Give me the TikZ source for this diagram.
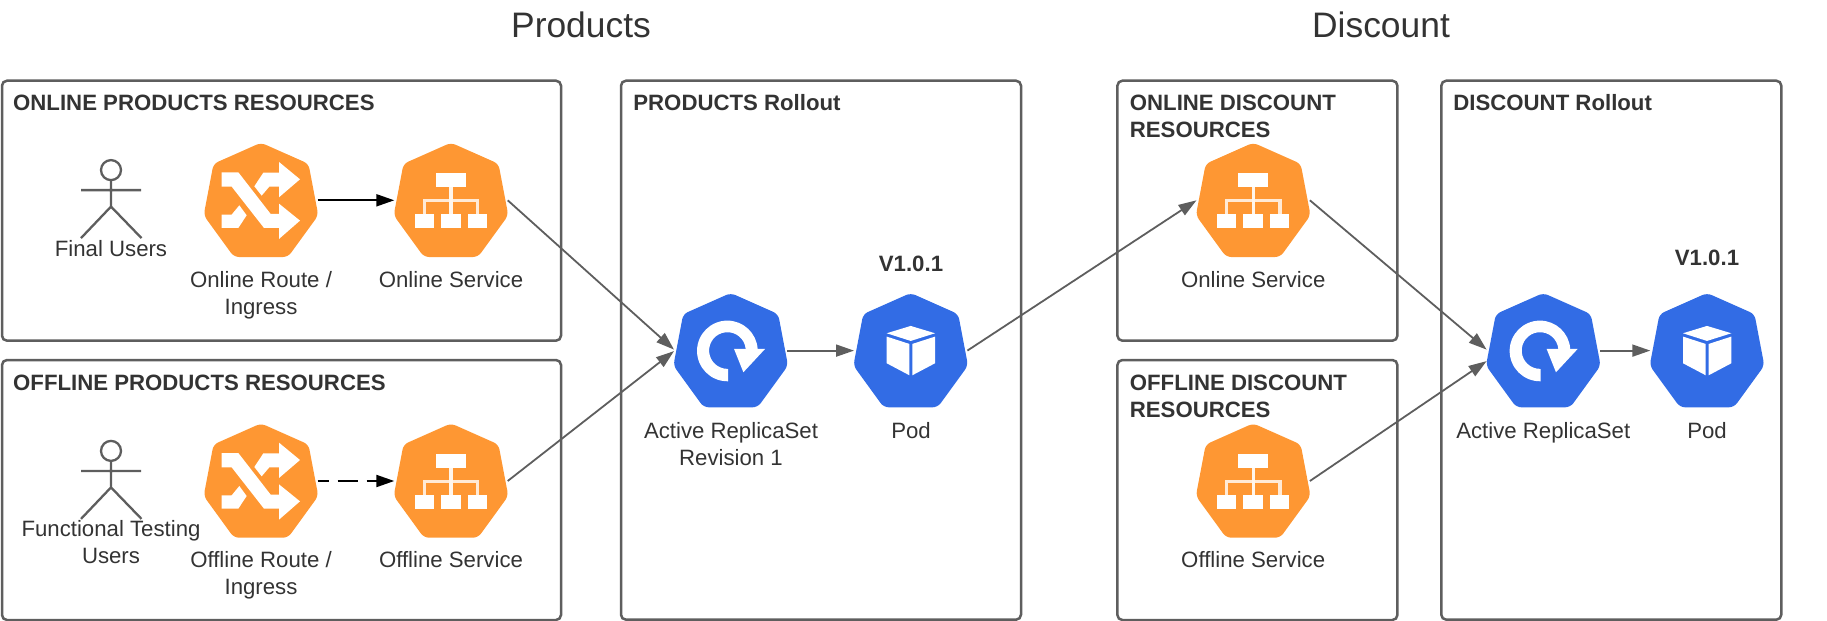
\documentclass[tikz,border=0pt]{standalone}
\usepackage{fontspec}
\setmainfont{Liberation Sans}
\usetikzlibrary{arrows.meta,calc}
\definecolor{korange}{HTML}{FE9733}
\definecolor{kblue}{HTML}{326CE5}
\definecolor{kline}{HTML}{5E5E5E}
\definecolor{ktext}{HTML}{333333}
\tikzset{
  framebox/.style={draw=kline,line width=1.25pt,rounded corners=2.5pt,anchor=north west,inner sep=0pt,outer sep=0pt},
  hbox/.style={inner sep=0pt,outer sep=0pt,minimum width=56.7pt,minimum height=57pt},
  lab/.style={text=ktext,font=\fontsize{11.1}{13.5}\selectfont,anchor=base,align=center,inner sep=0pt},
  head/.style={text=ktext,font=\fontsize{11.1}{13.5}\selectfont\bfseries,anchor=base west,align=left,inner sep=0pt},
  ver/.style={text=ktext,font=\fontsize{11.1}{13.5}\selectfont\bfseries,anchor=base,inner sep=0pt},
  ttl/.style={text=ktext,font=\fontsize{17.7}{20}\selectfont,anchor=center,inner sep=0pt},
  conn/.style={draw=kline,line width=0.9pt,-{Triangle[length=9pt,width=6pt]}},
  bconn/.style={draw=black,line width=1pt,-{Triangle[length=9pt,width=6pt]}},
  hept/.pic={\path[pic actions,rounded corners=2.5pt] (0,-57.6) -- (47.5,-36.5) -- (57.3,15) -- (27,56.7) -- (-27,56.7) -- (-57.3,15) -- (-47.5,-36.5) -- cycle;},
  routeicon/.pic={\begin{scope}[x=0.16667pt,y=-0.16667pt]
    \fill[white] (-118,-84) -- (-118,-41) -- (-88,-41) -- (9,83) -- (54,83) -- (54,116) -- (117,61) -- (54,10) -- (54,41) -- (29,41) -- (-68,-84) -- cycle;
    \fill[white] (-20,-42) -- (2,-14) -- (25,-41) -- (54,-41) -- (54,-9) -- (117,-63) -- (54,-115) -- (54,-83) -- (7,-83) -- cycle;
    \fill[white] (-118,43) -- (-88,43) -- (-65,15) -- (-43,45) -- (-68,83) -- (-118,83) -- cycle;
  \end{scope}},
  serviceicon/.pic={\begin{scope}[x=0.16667pt,y=-0.16667pt]
    \fill[white!80!korange] (-84,-3) rectangle (85,6);
    \fill[white!80!korange] (-84,-3) rectangle (-75,41);
    \fill[white!80!korange] (75,-3) rectangle (85,41);
    \fill[white!90!korange] (-5,-40) rectangle (5,41);
    \fill[white] (-45,-82) rectangle (45,-40);
    \fill[white] (-108,41) rectangle (-51,83);
    \fill[white] (-30,41) rectangle (29,83);
    \fill[white] (51,41) rectangle (108,83);
  \end{scope}},
  rsicon/.pic={\begin{scope}[x=0.16667pt,y=-0.16667pt]
    \fill[white] (-8,92) -- (-10,92) arc[start angle=90,end angle=356,radius=91] -- (45,-5) arc[start angle=355,end angle=90,radius=55] -- (-8,56) -- cycle;
    \fill[white] (10,-5) -- (103,-5) -- (38,65) -- cycle;
  \end{scope}},
  podicon/.pic={\begin{scope}[x=0.16667pt,y=-0.16667pt]
    \fill[white] (-72,-52) -- (0,-74) -- (73,-52) -- (0,-29) -- cycle;
    \fill[white] (-72,-42) -- (-4,-20) -- (-4,74) -- (-72,38) -- cycle;
    \fill[white] (5,-20) -- (73,-42) -- (73,38) -- (5,74) -- cycle;
  \end{scope}},
  actor/.pic={\begin{scope}[draw=kline,line width=1.15pt]
    \draw (0,0) circle[radius=10];
    \draw (0,10) -- (0,36.5) (-30,20) -- (30,20) (-30,68) -- (0,36.5) -- (30.5,68);
  \end{scope}},
}
\begin{document}
\begin{tikzpicture}[x=0.5pt,y=-0.5pt]
\useasboundingbox (0,0) rectangle (1827,621);
% frames
\node[framebox,minimum width=279.5pt,minimum height=130pt] (fA) at (2,80.7) {};
\node[framebox,minimum width=279.5pt,minimum height=130pt] (fB) at (2,360) {};
\node[framebox,minimum width=200pt,minimum height=269.5pt] (fC) at (621,80.7) {};
\node[framebox,minimum width=140pt,minimum height=130pt] (fD) at (1117.4,80.7) {};
\node[framebox,minimum width=140pt,minimum height=130pt] (fE) at (1117.4,360) {};
\node[framebox,minimum width=170pt,minimum height=269.5pt] (fF) at (1441.3,80.7) {};
% titles
\node[ttl] (t1) at (581,24.5) {Products};
\node[ttl] (t2) at (1381,24.5) {Discount};
% frame headings
\node[head] (hA) at (12.8,110) {ONLINE PRODUCTS RESOURCES};
\node[head] (hB) at (12.8,390.8) {OFFLINE PRODUCTS RESOURCES};
\node[head] (hC) at (633,110) {PRODUCTS Rollout};
\node[head] (hD) at (1129.5,137) {ONLINE DISCOUNT\\RESOURCES};
\node[head] (hE) at (1129.5,417.8) {OFFLINE DISCOUNT\\RESOURCES};
\node[head] (hF) at (1453,110) {DISCOUNT Rollout};
% icon anchors
\node[hbox] (routeA) at (261,200.3) {};
\node[hbox] (svcA) at (451,200.3) {};
\node[hbox] (routeB) at (261,481) {};
\node[hbox] (svcB) at (451,481) {};
\node[hbox] (rsA) at (730.7,350.6) {};
\node[hbox] (podA) at (910.7,350.6) {};
\node[hbox] (dsvcA) at (1253.2,200.3) {};
\node[hbox] (dsvcB) at (1253.2,481) {};
\node[hbox] (rsB) at (1543.3,350.6) {};
\node[hbox] (podB) at (1707,350.6) {};
% icons
\foreach \n in {routeA,routeB}{\pic[fill=korange] at (\n) {hept}; \pic at (\n) {routeicon};}
\foreach \n in {svcA,svcB,dsvcA,dsvcB}{\pic[fill=korange] at (\n) {hept}; \pic at (\n) {serviceicon};}
\foreach \n in {rsA,rsB}{\pic[fill=kblue] at (\n) {hept}; \pic at (\n) {rsicon};}
\foreach \n in {podA,podB}{\pic[fill=kblue] at (\n) {hept}; \pic at (\n) {podicon};}
% actors
\pic at (111,170.1) {actor};
\pic at (111,450.9) {actor};
% labels
\node[lab] (lU1) at (111,256.7) {Final Users};
\node[lab] (lU2) at (111,563.5) {Functional Testing\\Users};
\node[lab] (lR1) at (261,314.3) {Online Route /\\Ingress};
\node[lab] (lS1) at (451,287.3) {Online Service};
\node[lab] (lR2) at (261,594) {Offline Route /\\Ingress};
\node[lab] (lS2) at (451,567.3) {Offline Service};
\node[lab] (lRS1) at (731,465) {Active ReplicaSet\\Revision 1};
\node[lab] (lP1) at (911,438) {Pod};
\node[lab] (lDS1) at (1253.2,287.3) {Online Service};
\node[lab] (lDS2) at (1253.2,567.3) {Offline Service};
\node[lab] (lRS2) at (1543.3,438) {Active ReplicaSet};
\node[lab] (lP2) at (1707,438) {Pod};
\node[ver] (v1) at (911,271.5) {V1.0.1};
\node[ver] (v2) at (1707,265.7) {V1.0.1};
% connectors
\draw[bconn] (routeA.east) -- (svcA.west);
\draw[bconn,dash pattern=on 10pt off 4.5pt,dash phase=4.5pt] (routeB.east) -- (svcB.west);
\draw[conn] (svcA.east) -- ($(rsA.west)+(0,-1)$);
\draw[conn] (svcB.east) -- ($(rsA.west)+(0,0.5)$);
\draw[conn] (rsA.east) -- (podA.west);
\draw[conn] (podA.east) -- (dsvcA.west);
\draw[conn] (dsvcA.east) -- ($(rsB.west)+(0,-1)$);
\draw[conn] (dsvcB.east) -- ($(rsB.west)+(0,10.5)$);
\draw[conn] (rsB.east) -- (podB.west);
\end{tikzpicture}
\end{document}
